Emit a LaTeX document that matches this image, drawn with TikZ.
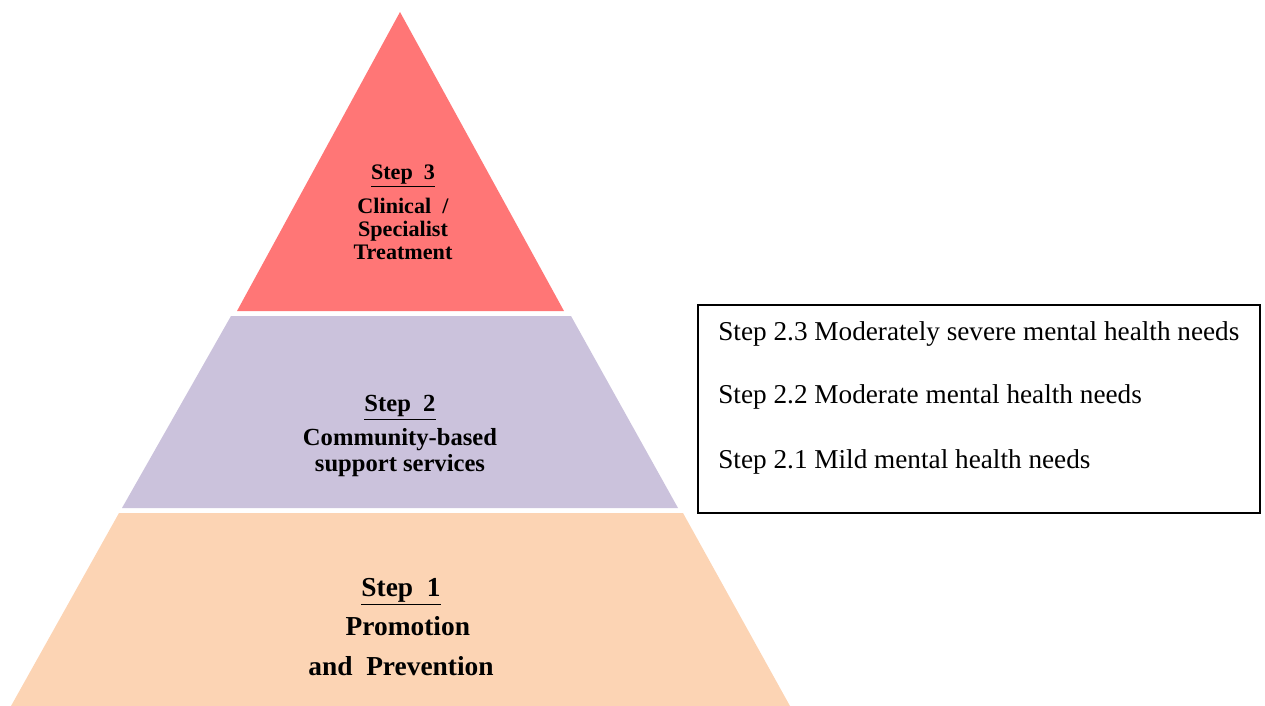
\documentclass[tikz,border=0pt]{standalone}
\usepackage{fontspec}
\setmainfont{Liberation Serif}
\definecolor{stepred}{HTML}{FF7676}
\definecolor{steplavender}{HTML}{CBC2DC}
\definecolor{steppeach}{HTML}{FCD4B4}
\tikzset{
    % Define tier and label styles
    tier/.style={draw=none},
    tierlabel/.style={align=center, inner sep=0pt},
    needsbox/.style={
        rectangle, draw=black, line width=0.8pt,
        minimum width=11.24cm, minimum height=4.16cm, inner sep=0pt
    },
    needslabel/.style={
        anchor=west, inner sep=0pt,
        font=\fontsize{15.5}{18}\selectfont
    }
}

\begin{document}
\begin{tikzpicture}[x=0.02cm, y=-0.02cm]

\useasboundingbox (0,0) rectangle (1265,706);

% Pyramid tiers
\fill[tier, stepred] (400,12) -- (564,311) -- (237,311) -- cycle;
\fill[tier, steplavender] (231,316) -- (571,316) -- (678,508) -- (122,508) -- cycle;
\fill[tier, steppeach] (119,513) -- (683,513) -- (790,706) -- (11,706) -- cycle;

% Tier labels
\node[tierlabel, font=\bfseries\fontsize{12.6}{13}\selectfont] (step3) at (403,212)
    {\underline{Step~~3}\\[5pt]Clinical~~/\\Specialist\\Treatment};
\node[tierlabel, font=\bfseries\fontsize{14}{14.7}\selectfont] (step2) at (400,436)
    {\underline{Step~~2}\\[5pt]Community-based\\support services};
\node[tierlabel, font=\bfseries\fontsize{15.6}{22.7}\selectfont] (step1) at (401,627)
    {\underline{Step~~1}\\~~Promotion\\and~~Prevention};

% Step 2 sub-levels
\node[needsbox] (needs) at (979,409) {};
\node[needslabel] (needs23) at (718,334) {Step 2.3 Moderately severe mental health needs};
\node[needslabel] (needs22) at (718,397) {Step 2.2 Moderate mental health needs};
\node[needslabel] (needs21) at (718,462) {Step 2.1 Mild mental health needs};

\end{tikzpicture}
\end{document}
